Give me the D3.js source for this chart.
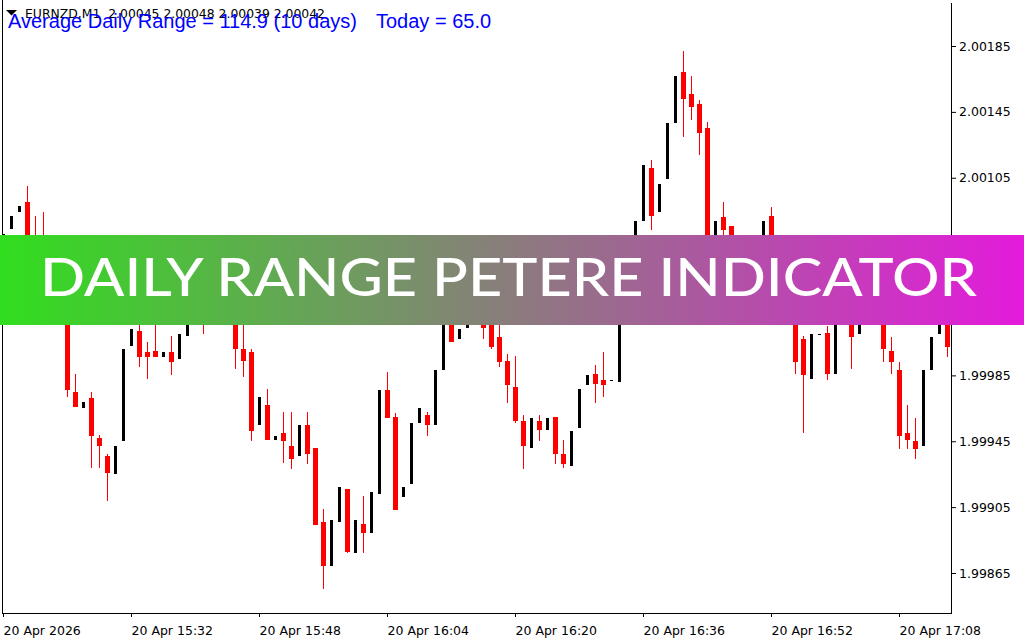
<!DOCTYPE html>
<html><head><meta charset="utf-8">
<script src="https://cdn.jsdelivr.net/npm/d3@7"></script>
<style>html,body{margin:0;padding:0;background:#fff;overflow:hidden}</style>
</head><body><svg id="c" width="1024" height="640"></svg>
<script>
// ---- DATA (EURNZD M1 candles) ----
const open=[2.00061,2.00074,2.00084,2.00090,2.00064,2.00058,2.00043,2.00040,2.00031,1.99975,
1.99965,1.99971,1.99947,1.99936,1.99925,1.99945,2.00003,2.00012,1.99999,2.00000,
1.99996,1.99999,1.99995,2.00009,2.00025,2.00037,2.00020,2.00031,2.00023,2.00033,
2.00001,1.99999,1.99955,1.99967,1.99946,1.99950,1.99942,1.99936,1.99955,1.99941,
1.99896,1.99869,1.99896,1.99916,1.99877,1.99895,1.99889,1.99913,1.99976,1.99960,
1.99911,1.99919,1.99956,1.99961,1.99955,1.99988,2.00031,2.00007,2.00014,2.00028,
2.00025,2.00022,2.00008,1.99994,1.99978,1.99957,1.99941,1.99957,1.99952,1.99960,
1.99937,1.99930,1.99953,1.99979,1.99986,1.99982,1.99982,1.99981,2.00037,2.00061,
2.00079,2.00111,2.00084,2.00104,2.00138,2.00169,2.00156,2.00150,2.00135,2.00054,
2.00081,2.00076,2.00046,2.00037,2.00054,2.00064,2.00082,2.00055,2.00042,2.00031,
2.00007,1.99983,2.00010,2.00011,1.99986,2.00028,2.00022,2.00010,2.00025,2.00020,
2.00028,2.00000,1.99988,1.99950,1.99945,1.99942,1.99988,2.00010,2.00022];
const high=[2.00071,2.00082,2.00088,2.00100,2.00082,2.00084,2.00049,2.00043,2.00034,1.99986,
1.99969,1.99975,1.99949,1.99937,1.99942,2.00001,2.00013,2.00019,2.00005,2.00020,
1.99999,2.00009,2.00010,2.00028,2.00040,2.00040,2.00034,2.00037,2.00037,2.00037,
2.00019,2.00001,1.99972,1.99977,1.99948,1.99963,1.99963,1.99955,1.99963,1.99941,
1.99904,1.99897,1.99917,1.99916,1.99897,1.99912,1.99914,1.99976,1.99987,1.99962,
1.99917,1.99956,1.99965,1.99963,1.99988,2.00034,2.00037,2.00013,2.00031,2.00032,
2.00031,2.00028,2.00019,1.99998,1.99997,1.99961,1.99959,1.99961,1.99959,1.99960,
1.99946,1.99951,1.99977,1.99985,1.99991,1.99999,1.99982,2.00040,2.00064,2.00079,
2.00113,2.00116,2.00101,2.00138,2.00167,2.00182,2.00167,2.00152,2.00139,2.00079,
2.00090,2.00076,2.00052,2.00058,2.00067,2.00079,2.00087,2.00058,2.00052,2.00034,
2.00009,2.00010,2.00010,2.00015,2.00031,2.00031,2.00025,2.00028,2.00030,2.00031,
2.00031,2.00008,1.99993,1.99967,1.99959,1.99988,2.00008,2.00028,2.00025];
const low=[2.00056,2.00074,2.00084,2.00050,2.00046,2.00037,2.00028,2.00025,1.99972,1.99966,
1.99965,1.99929,1.99929,1.99909,1.99925,1.99945,2.00003,1.99990,1.99983,1.99996,
1.99996,1.99985,1.99995,2.00009,2.00022,2.00010,2.00017,2.00020,2.00020,1.99989,
1.99984,1.99945,1.99955,1.99946,1.99946,1.99932,1.99928,1.99936,1.99931,1.99894,
1.99855,1.99869,1.99896,1.99877,1.99877,1.99877,1.99889,1.99913,1.99959,1.99903,
1.99911,1.99919,1.99956,1.99948,1.99955,1.99988,2.00005,2.00007,2.00014,2.00019,
2.00007,2.00001,1.99990,1.99968,1.99956,1.99928,1.99941,1.99945,1.99952,1.99931,
1.99929,1.99930,1.99953,1.99979,1.99968,1.99972,1.99982,1.99981,2.00034,2.00058,
2.00079,2.00073,2.00084,2.00104,2.00138,2.00130,2.00140,2.00119,2.00049,2.00052,
2.00064,2.00043,2.00031,2.00034,2.00050,2.00061,2.00052,2.00037,2.00028,1.99986,
1.99950,1.99983,2.00010,1.99982,1.99986,2.00019,1.99989,2.00010,2.00017,2.00017,
1.99993,1.99986,1.99940,1.99940,1.99934,1.99942,1.99988,2.00010,1.99996];
const close=[2.00071,2.00082,2.00088,2.00054,2.00049,2.00043,2.00040,2.00031,1.99976,1.99966,
1.99969,1.99948,1.99942,1.99926,1.99942,2.00001,2.00013,1.99996,1.99996,1.99996,
1.99999,1.99993,2.00010,2.00025,2.00037,2.00019,2.00031,2.00025,2.00034,2.00001,
1.99994,1.99951,1.99972,1.99946,1.99948,1.99945,1.99934,1.99955,1.99937,1.99894,
1.99869,1.99897,1.99917,1.99878,1.99897,1.99889,1.99914,1.99976,1.99959,1.99903,
1.99917,1.99956,1.99965,1.99955,1.99988,2.00031,2.00005,2.00013,2.00028,2.00022,
2.00014,2.00002,1.99993,1.99979,1.99957,1.99942,1.99959,1.99952,1.99959,1.99937,
1.99931,1.99951,1.99977,1.99985,1.99980,1.99979,1.99982,2.00037,2.00061,2.00079,
2.00113,2.00082,2.00101,2.00138,2.00167,2.00153,2.00148,2.00132,2.00052,2.00079,
2.00073,2.00046,2.00037,2.00055,2.00064,2.00079,2.00055,2.00043,2.00031,1.99993,
1.99985,2.00010,2.00010,1.99986,2.00028,2.00022,2.00008,2.00025,2.00020,2.00028,
2.00001,1.99993,1.99948,1.99946,1.99940,1.99988,2.00008,2.00025,2.00002];
const priceTicks=[1.99865,1.99905,1.99945,1.99985,2.00025,2.00065,2.00105,2.00145,2.00185];
const timeTickIndex=[0,16,32,48,64,80,96,112];
const timeTickLabels=["20 Apr 2026","20 Apr 15:32","20 Apr 15:48","20 Apr 16:04","20 Apr 16:20","20 Apr 16:36","20 Apr 16:52","20 Apr 17:08"];
const symbolLine="EURNZD,M1  2.00045 2.00048 2.00039 2.00042";
const adrText="Average Daily Range = 114.9 (10 days)";
const todayText="Today = 65.0";
const bannerText="DAILY RANGE PETERE INDICATOR";

// ---- DRAW ----
const svg=d3.select("#c");
svg.append("rect").attr("width",1024).attr("height",640).attr("fill","#fff");
const bars=open.map((o,i)=>({i,o,h:high[i],l:low[i],c:close[i]}));
const x=d3.scaleLinear().domain([0,bars.length-1]).range([3.5,3.5+8*(bars.length-1)]);
const y=d3.scaleLinear().domain([1.99865,2.00185]).range([573,46]);

// frame
svg.append("path").attr("d","M2.5,0V613.5H951.5V3").attr("fill","none").attr("stroke","#000").attr("stroke-width",1).attr("shape-rendering","crispEdges");

// candles
const g=svg.append("g").attr("shape-rendering","crispEdges");
const col=d=>d.c>=d.o?"#000":"#ff0000";
g.selectAll("rect.w").data(bars).join("rect").attr("class","w")
  .attr("x",d=>x(d.i)-0.5).attr("width",1)
  .attr("y",d=>Math.round(y(d.h))).attr("height",d=>Math.max(1,Math.round(y(d.l))-Math.round(y(d.h))))
  .attr("fill",col);
g.selectAll("rect.b").data(bars).join("rect").attr("class","b")
  .attr("x",d=>d.c>=d.o?x(d.i)-1.5:x(d.i)-2.5).attr("width",d=>d.c>=d.o?3:5)
  .attr("y",d=>Math.round(y(Math.max(d.o,d.c))))
  .attr("height",d=>Math.max(1,Math.round(y(Math.min(d.o,d.c)))-Math.round(y(Math.max(d.o,d.c)))))
  .attr("fill",col);

// axes
const ya=svg.append("g").attr("transform","translate(952,0)")
  .call(d3.axisRight(y).tickValues(priceTicks).tickSize(4).tickPadding(3).tickFormat(d3.format(".5f")));
ya.select(".domain").remove();
ya.selectAll("text").attr("font-family","'DejaVu Sans',sans-serif").attr("font-size",12.5).attr("fill","#000");
const xa=svg.append("g").attr("transform","translate(-0.5,613)")
  .call(d3.axisBottom(x).tickValues(timeTickIndex).tickSize(4).tickPadding(9).tickFormat((d,i)=>timeTickLabels[i]));
xa.select(".domain").remove();
xa.selectAll("text").attr("text-anchor","start").attr("font-family","'DejaVu Sans',sans-serif").attr("font-size",12.5).attr("fill","#000");

// banner
const defs=svg.append("defs");
const lg=defs.append("linearGradient").attr("id","bg").attr("x1","0").attr("x2","1").attr("y1","0").attr("y2","0");
lg.append("stop").attr("offset","0").attr("stop-color","#31de1e");
lg.append("stop").attr("offset","1").attr("stop-color","#e41adc");
svg.append("rect").attr("x",0).attr("y",235).attr("width",1024).attr("height",90).attr("fill","url(#bg)");
svg.append("text").attr("x",40).attr("y",296).attr("textLength",937).attr("lengthAdjust","spacingAndGlyphs")
  .attr("font-family","Lato,'Open Sans',sans-serif").attr("font-weight",500).attr("font-size",53)
  .attr("fill","#fff").text(bannerText);

// header (the indicator text deliberately overlaps the symbol line, as in the original)
svg.append("path").attr("d","M6,10H17L11.5,15.5Z").attr("fill","#000");
svg.append("text").attr("x",25).attr("y",18).attr("textLength",300).attr("lengthAdjust","spacingAndGlyphs")
  .attr("font-family","'DejaVu Sans',sans-serif").attr("font-size",12).attr("fill","#000").attr("xml:space","preserve").text(symbolLine);
svg.append("text").attr("x",8).attr("y",28).attr("font-family","'Liberation Sans',Arial,sans-serif").attr("font-size",20).attr("fill","#0000ff").text(adrText);
svg.append("text").attr("x",376).attr("y",28).attr("font-family","'Liberation Sans',Arial,sans-serif").attr("font-size",20).attr("fill","#0000ff").text(todayText);
</script></body></html>
